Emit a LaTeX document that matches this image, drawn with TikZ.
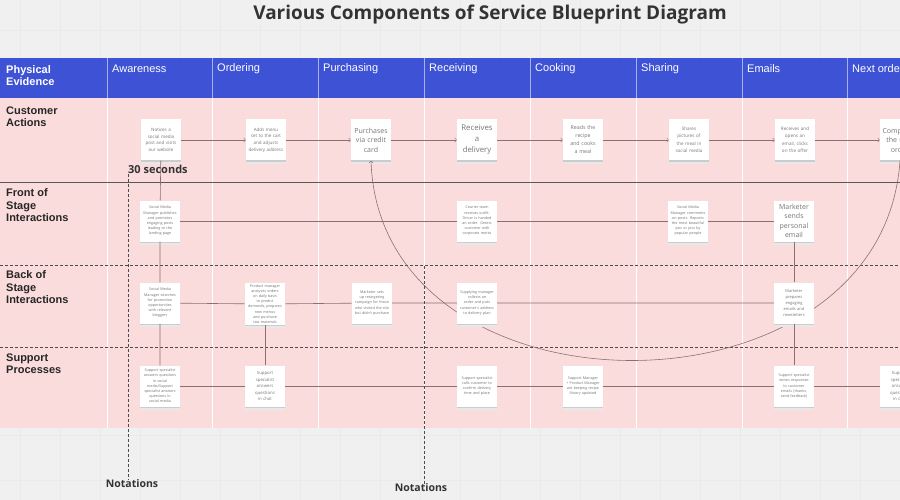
\documentclass[tikz,border=0pt]{standalone}
\usepackage{fontspec}
\setmainfont{Liberation Sans}
\newfontfamily\cardfont{Open Sans}
\usepackage{tikz}
\definecolor{headblue}{RGB}{62,82,214}
\definecolor{lanepink}{RGB}{251,220,220}
\definecolor{boardgray}{RGB}{240,240,240}
\definecolor{boardline}{RGB}{234,234,234}
\definecolor{wire}{RGB}{140,112,112}
\definecolor{inkgray}{RGB}{118,118,118}
\hyphenpenalty=10000
\exhyphenpenalty=10000

\begin{document}
\begin{tikzpicture}[x=1pt,y=-1pt,
	card/.style={fill=white, minimum width=40pt, minimum height=41pt, inner sep=1pt, text width=35pt, align=center, text=inkgray,
		preaction={fill=black!9, transform canvas={yshift=-3.4pt}}, preaction={fill=black!20, transform canvas={yshift=-1.7pt}},
		font=\cardfont\fontsize{3.7}{5.2}\selectfont},
	actcard/.style={card, font=\cardfont\fontsize{4.5}{6.6}\selectfont},
	midcard/.style={card, font=\cardfont\fontsize{5.3}{8}\selectfont},
	bigcard/.style={card, font=\cardfont\fontsize{7}{9.5}\selectfont},
	lane/.style={anchor=north west, align=left, inner sep=0pt, font=\bfseries\fontsize{11}{12.5}\selectfont, text=black!85},
	phase/.style={anchor=west, inner sep=0pt, text=white, font=\fontsize{11}{12}\selectfont},
	flow/.style={draw=wire, line width=0.6pt},
	notation/.style={draw=black!70, line width=0.8pt, dash pattern=on 3pt off 2pt},
	tag/.style={inner sep=0pt, text=black!80, font=\cardfont\bfseries\fontsize{11}{12}\selectfont}]
	\useasboundingbox (0,0) rectangle (900,500);
	\clip (0,0) rectangle (900,500);
	\fill[boardgray] (0,0) rectangle (900,500);
	\foreach \gx in {20,60,...,900} \draw[boardline, line width=0.4pt] (\gx,0) -- (\gx,500);
	\foreach \gy in {30,75,...,500} \draw[boardline, line width=0.4pt] (0,\gy) -- (900,\gy);
	\fill[headblue] (0,58) rectangle (900,98);
	\fill[lanepink] (0,98) rectangle (900,428);
	\foreach \cx in {107,212,318,424,530,636,742,847} {
		\draw[headblue!45!white, line width=0.6pt] (\cx,58) -- (\cx,98);
		\draw[white, line width=0.8pt] (\cx,98) -- (\cx,428);
	}
	\draw[black!65, line width=1pt] (0,183) -- (900,183);
	\draw[notation] (0,265) -- (900,265);
	\draw[notation] (0,347) -- (900,347);

	\node[tag, font=\cardfont\bfseries\fontsize{19}{22}\selectfont] (title) at (490,15) {Various Components of Service Blueprint Diagram};

	\node[lane, text=white] (evidence) at (6,65) {Physical\\Evidence};
	\foreach \cx/\name [count=\i] in {112/Awareness,217/Ordering,323/Purchasing,429/Receiving,535/Cooking,641/Sharing,747/Emails,852/Next order}
		\node[phase] (phase\i) at (\cx,69) {\name};

	\node[lane] (customer) at (6,106.5) {Customer\\Actions};
	\node[lane] (front) at (6,188.5) {Front of\\Stage\\Interactions};
	\node[lane] (backstage) at (6,270.5) {Back of\\Stage\\Interactions};
	\node[lane] (support) at (6,353.5) {Support\\Processes};

	\node[actcard, text width=32pt] (act1) at (161,140) {Notices a social media post and visits our website};
	\node[actcard] (act2) at (266,140) {Adds menu set to the cart and adjusts delivery address};
	\node[bigcard] (act3) at (371,140) {Purchases via credit card};
	\node[bigcard, font=\cardfont\fontsize{7.8}{11}\selectfont] (act4) at (477,140) {Receives a delivery};
	\node[midcard, text width=30pt] (act5) at (583,140) {Reads the recipe and cooks a meal};
	\node[midcard, text width=33pt, font=\cardfont\fontsize{4.6}{7.5}\selectfont] (act6) at (689,140) {Shares pictures of the meal in social media};
	\node[midcard, text width=30pt, font=\cardfont\fontsize{4.6}{7.5}\selectfont] (act7) at (795,140) {Receives and opens an email, clicks on the offer};
	\node[bigcard] (act8) at (900,140) {Completes the next order};

	\draw[flow, ->] (act8.south) .. controls (882,427) and (380,427) .. (act3.south);
	\foreach \a/\b in {act1/act2,act2/act3,act3/act4,act4/act5,act5/act6,act6/act7,act7/act8}
		\draw[flow, ->] (\a.east) -- (\b.west);

	\node[card] (fos1) at (160,221) {Social Media Manager publishes and promotes engaging posts leading to the landing page};
	\node[card] (fos4) at (477,221) {Courier team receives outfit. Driver is handed an order. Greets customer with corporate motto};
	\node[card] (fos6) at (688,221) {Social Media Manager comments on posts. Reposts the most beautiful pics or pics by popular people};
	\node[bigcard, text width=30pt] (fos7) at (794,221) {Marketer sends personal email};

	\node[card, text width=32pt] (bos1) at (160,303) {Social Media Manager searches for promotion opportunities with relevant bloggers};
	\node[card] (bos2) at (265,304) {Product manager analyses orders on daily basis to predict demands, prepares new menus and purchase raw materials};
	\node[card] (bos3) at (372,303) {Marketer sets up retargeting campaign for those who visited the site but didn't purchase};
	\node[card] (bos4) at (477,303) {Supplying manager collects an order and puts customer's address to delivery plan};
	\node[card, text width=30pt, font=\cardfont\fontsize{4}{6}\selectfont] (bos7) at (794,303) {Marketer prepares engaging emails and newsletters};

	\node[card] (sup1) at (160,386) {Support specialist answers questions in social media/Support specialist answers questions in social media};
	\node[card, text width=27pt, font=\cardfont\fontsize{4.3}{6.5}\selectfont] (sup2) at (265,386) {Support specialist answers questions in chat};
	\node[card] (sup4) at (477,386) {Support specialist calls customer to confirm delivery time and place};
	\node[card] (sup5) at (583,386) {Support Manager + Product Manager are keeping recipe library updated};
	\node[card] (sup7) at (794,386) {Support specialist writes responses to customer emails (thanks, send feedback)};
	\node[card, text width=27pt, font=\cardfont\fontsize{4.3}{6.5}\selectfont] (sup8) at (900,386) {Support specialist answers questions in chat};

	\draw[flow] (fos1) -- (fos4) -- (fos6) -- (fos7);
	\draw[flow] (bos1) -- (bos2) -- (bos3) -- (bos4) -- (bos7);
	\draw[flow] (sup1) -- (sup2) -- (sup4) -- (sup5) -- (sup7) -- (sup8);
	\draw[flow] (act1) -- (fos1) -- (bos1) -- (sup1);
	\draw[flow] (bos2) -- (sup2);
	\draw[flow] (fos7) -- (bos7) -- (sup7);

	\node[tag, anchor=base west] (seconds) at (128,174) {30 seconds};
	\node[tag, font=\cardfont\bfseries\fontsize{10.5}{12}\selectfont] (notes1) at (132,484) {Notations};
	\coordinate (mark2) at (424,266);
	\node[tag, font=\cardfont\bfseries\fontsize{10.5}{12}\selectfont] (notes2) at (421,488) {Notations};
	\draw[notation] (seconds.south west) -- (seconds.south west |- notes1.north);
	\draw[notation] (mark2) -- (mark2 |- notes2.north);
\end{tikzpicture}
\end{document}
